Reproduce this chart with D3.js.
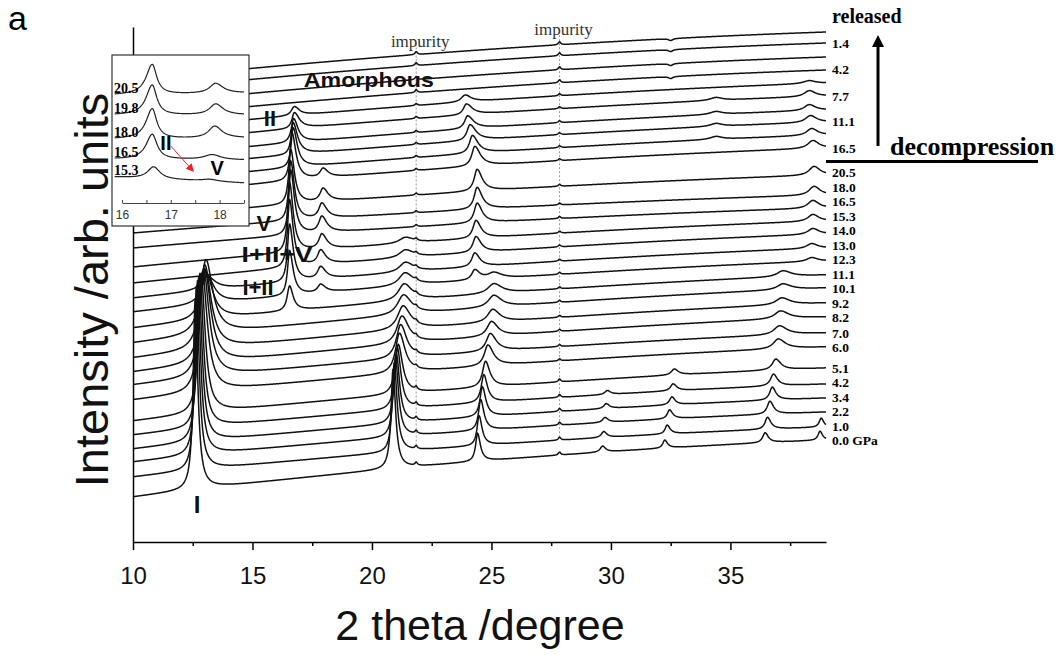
<!DOCTYPE html>
<html>
<head>
<meta charset="utf-8">
<script src="https://cdn.jsdelivr.net/npm/d3@7/dist/d3.min.js"></script>
<style>
body { margin: 0; background: #fff; }
svg text { font-family: "Liberation Sans", Arial, sans-serif; }
svg text.serif { font-family: "Liberation Serif", "Times New Roman", serif; font-weight: bold; }
svg text.plainserif { font-family: "Liberation Serif", "Times New Roman", serif; }
</style>
</head>
<body>
<div id="chart"></div>
<script>
// pressures, bottom curve first (compression, then decompression)
var compLabels = ["0.0 GPa", "1.0", "2.2", "3.4", "4.2", "5.1", "6.0", "7.0", "8.2", "9.2",
                  "10.1", "11.1", "12.3", "13.0", "14.0", "15.3", "16.5", "18.0", "20.5"];
var decompLabels = ["16.5", "", "11.1", "", "7.7", "", "4.2", "", "1.4", "released"];

// background level of each pattern at 10 deg and at 39 deg (arb. units, stacked)
var baseStart = [45, 65, 80, 93, 107, 121, 142, 157, 170, 184, 199, 214, 230, 244, 259, 275, 294, 309, 324,
                 346, 359, 372, 384, 398, 411, 424, 437, 451, 462];
var baseEnd = [102, 115, 130, 144, 158, 174, 195, 209, 225, 239, 254, 267, 281, 294, 308, 321, 334, 347, 367,
               394, 407, 420, 432, 446, 459, 472, 485, 499, 510];
var bgCurve = 0.5; // backgrounds bow upward in the middle

// peaks of each pattern: [2theta, height, left half width, right half width]
var peaks = [
  [[12.6, 190, .1, .13], [20.88, 100, .1, .13], [24.42, 28, .1, .14], [29.65, 6, .12, .15], [32.25, 8, .1, .14], [36.45, 10, .12, .16], [38.75, 9, .1, .12]],
  [[12.65, 185, .1, .14], [20.93, 90, .1, .14], [24.48, 30, .1, .15], [29.7, 6, .12, .15], [32.35, 9, .1, .15], [36.55, 12, .12, .17], [38.8, 9, .1, .12]],
  [[12.7, 175, .11, .15], [20.98, 80, .11, .15], [24.55, 31, .11, .16], [29.75, 5, .12, .16], [32.45, 9, .11, .16], [36.65, 13, .13, .18]],
  [[12.75, 165, .12, .16], [21.02, 70, .12, .16], [24.62, 30, .12, .17], [29.8, 5, .12, .16], [32.55, 8, .12, .16], [36.75, 13, .13, .18]],
  [[12.8, 155, .12, .17], [21.06, 62, .13, .18], [24.68, 28, .13, .18], [29.85, 4, .13, .16], [32.6, 7, .13, .18], [36.8, 12, .15, .2]],
  [[12.85, 140, .14, .2], [21.1, 50, .15, .22], [24.75, 26, .15, .22], [32.65, 6, .15, .2], [36.9, 11, .18, .25]],
  [[12.9, 120, .18, .25], [21.15, 40, .2, .28], [24.85, 21, .18, .28], [37.0, 10, .25, .35]],
  [[12.95, 108, .2, .28], [21.2, 34, .22, .3], [24.95, 18, .2, .3], [37.05, 9, .28, .38]],
  [[13.0, 95, .22, .3], [21.25, 28, .25, .35], [25.0, 15, .22, .32], [37.1, 8, .3, .4]],
  [[13.0, 85, .24, .32], [21.3, 24, .28, .38], [25.05, 13, .25, .35], [37.15, 7, .3, .4]],
  [[13.05, 75, .26, .34], [21.32, 20, .3, .4], [25.1, 12, .28, .38], [37.2, 6, .3, .4]],
  [[13.05, 48, .26, .34], [16.55, 25, .12, .18], [21.35, 17, .3, .4], [25.1, 10, .3, .4], [37.2, 6, .3, .4]],
  [[13.1, 28, .28, .36], [16.55, 45, .1, .18], [17.85, 8, .15, .25], [21.38, 13, .3, .4], [24.3, 10, .15, .25], [25.1, 6, .3, .4], [38.4, 4, .25, .3]],
  [[13.1, 14, .3, .4], [16.55, 58, .1, .18], [17.85, 12, .15, .25], [21.4, 10, .3, .4], [24.3, 14, .15, .25], [38.4, 5, .25, .3]],
  [[16.55, 68, .1, .18], [17.85, 14, .15, .25], [21.4, 8, .3, .4], [24.35, 16, .15, .25], [38.45, 6, .25, .3]],
  [[16.55, 70, .1, .18], [17.9, 15, .15, .25], [21.4, 6, .3, .4], [24.35, 18, .15, .25], [38.45, 7, .25, .3]],
  [[16.6, 65, .1, .18], [17.9, 16, .15, .25], [24.4, 20, .15, .25], [38.45, 8, .25, .3]],
  [[16.6, 60, .1, .18], [17.9, 15, .15, .25], [24.4, 22, .15, .25], [38.5, 9, .25, .3]],
  [[16.6, 55, .1, .18], [17.95, 13, .15, .25], [24.4, 22, .15, .25], [38.5, 9, .25, .3]],
  [[16.65, 48, .1, .2], [17.95, 9, .15, .25], [24.3, 20, .15, .28], [38.45, 8, .25, .3]],
  [[16.7, 40, .1, .2], [24.2, 18, .15, .28], [34.4, 3, .3, .3], [38.4, 7, .25, .3]],
  [[16.7, 32, .1, .22], [24.1, 16, .15, .3], [34.4, 3, .3, .3], [38.35, 7, .25, .3]],
  [[16.72, 24, .12, .22], [24.0, 13, .15, .3], [34.4, 3, .3, .3], [38.3, 6, .25, .3]],
  [[16.75, 16, .12, .25], [23.95, 11, .15, .3], [34.4, 3, .3, .3], [38.3, 6, .25, .3]],
  [[16.75, 9, .15, .25], [23.9, 7, .2, .3], [38.3, 3, .3, .3]],
  [[32.5, -2, .1, .1]],
  [[32.5, -2, .1, .1]],
  [[32.5, -2, .1, .1]],
  [[32.5, -2, .1, .1]]
];

// impurity lines and the size of their small peaks in each pattern
var impurityTheta = [21.85, 27.85];
var impurityHeight = [3, 3, 3, 3, 3, 3, 2, 2, 2, 2, 2, 2, 2, 2, 2, 2, 2, 2, 2, 2, 2, 2, 2, 2, 2, 3, 3, 3, 3];

// inset: 16-18.5 deg zoom of the highest pressures
var insetLabels = ["20.5", "19.8", "18.0", "16.5", "15.3"];
var insetStart = [108, 88, 64, 44, 26];
var insetEnd = [110, 88, 65, 43, 20];
var insetPeaks = [
  [[16.62, 30, .15, .11], [17.92, 10, .15, .18]],
  [[16.62, 30, .15, .11], [17.92, 11, .15, .18]],
  [[16.62, 30, .15, .11], [17.9, 12, .15, .18]],
  [[16.62, 25, .15, .12], [17.85, 5, .2, .2]],
  [[16.65, 12, .15, .15], [17.8, 2, .2, .2]]
];

var svgWidth = 1062;
var svgHeight = 655;

var svg = d3.select("#chart")
    .append("svg")
    .attr("width", svgWidth)
    .attr("height", svgHeight);

var defs = svg.append("defs");
defs.append("marker")
    .attr("id", "head")
    .attr("viewBox", "0 0 10 10")
    .attr("refX", 5).attr("refY", 5)
    .attr("markerWidth", 4).attr("markerHeight", 5)
    .attr("orient", "auto")
    .append("path").attr("d", "M0,0 L10,5 L0,10 z").attr("fill", "#000");
defs.append("marker")
    .attr("id", "redhead")
    .attr("viewBox", "0 0 10 10")
    .attr("refX", 5).attr("refY", 5)
    .attr("markerWidth", 8).attr("markerHeight", 8)
    .attr("markerUnits", "userSpaceOnUse")
    .attr("orient", "auto")
    .append("path").attr("d", "M0,0 L10,5 L0,10 z").attr("fill", "#e8262a");

var x = d3.scaleLinear().domain([10, 39]).range([133, 826]);
var y = d3.scaleLinear().domain([0, 515]).range([542, 27]);

function lor(t, p) {
    var w = t < p[0] ? p[2] : p[3];
    var d = (t - p[0]) / w;
    return p[1] / (1 + d * d);
}

function pattern(grid, lo, hi, start, end, pk, bow) {
    return grid.map(function(t) {
        var u = (t - lo) / (hi - lo);
        var v = start + (u + bow * u * (1 - u)) * (end - start);
        pk.forEach(function(p) { v += lor(t, p); });
        return [t, v];
    });
}

var grid = d3.range(10, 39.0001, 0.02);
var line = d3.line().x(d => x(d[0])).y(d => y(d[1]));

var curves = peaks.map(function(pk, i) {
    var all = pk.concat(impurityTheta.map(t => [t, impurityHeight[i], .06, .06]));
    return pattern(grid, 10, 39, baseStart[i], baseEnd[i], all, bgCurve);
});

// impurity dashed markers, from the 1.0 GPa pattern up to the top pattern
var topIdx = curves.length - 1;
impurityTheta.forEach(function(t) {
    var k = Math.round((t - 10) / 0.02);
    svg.append("line")
        .attr("x1", x(t)).attr("x2", x(t))
        .attr("y1", y(curves[1][k][1])).attr("y2", y(curves[topIdx][k][1] + 10))
        .attr("stroke", "#999")
        .attr("stroke-width", 1)
        .attr("stroke-dasharray", "2,2");
});

svg.append("g").selectAll("path")
    .data(curves)
    .enter()
    .append("path")
    .attr("d", line)
    .attr("fill", "none")
    .attr("stroke", "#111")
    .attr("stroke-width", 1.5);

// axes
var xAxis = svg.append("g")
    .attr("transform", "translate(0,542)")
    .call(d3.axisBottom(x).tickValues([10, 15, 20, 25, 30, 35]).tickSize(8).tickSizeOuter(0).tickFormat(d3.format("d")));
xAxis.select(".domain").attr("stroke-width", 1.5);
xAxis.selectAll(".tick line").attr("stroke-width", 1.5);
xAxis.selectAll("text").attr("font-size", 24).attr("dy", "1.3em").attr("fill", "#111");

svg.append("g")
    .attr("transform", "translate(0,542)")
    .call(d3.axisBottom(x).tickValues([12.5, 17.5, 22.5, 27.5, 32.5, 37.5]).tickSize(4).tickFormat(""))
    .call(g => g.select(".domain").remove())
    .selectAll(".tick line").attr("stroke-width", 1.5);

svg.append("g")
    .attr("transform", "translate(133,0)")
    .call(d3.axisLeft(y).tickValues([]).tickSizeOuter(0))
    .select(".domain").attr("stroke-width", 1.5);

svg.append("text")
    .attr("transform", "translate(108,290) rotate(-90)")
    .attr("text-anchor", "middle")
    .attr("font-size", 47)
    .attr("fill", "#111")
    .text("Intensity /arb. units");

svg.append("text")
    .attr("x", 480).attr("y", 640)
    .attr("text-anchor", "middle")
    .attr("font-size", 43)
    .attr("fill", "#111")
    .text("2 theta /degree");

svg.append("text")
    .attr("x", 8).attr("y", 30)
    .attr("font-size", 34)
    .text("a");

// pressure labels at the right end of each pattern, nudged apart where crowded
var rightLabels = compLabels.concat(decompLabels);
var labelY = baseEnd.map(v => y(v) + 5);
for (var i = 1; i < labelY.length; i++) {
    if (rightLabels[i] !== "" && labelY[i] > labelY[i - 1] - 14.5) labelY[i] = labelY[i - 1] - 14.5;
}
svg.append("g").selectAll("text")
    .data(rightLabels)
    .enter()
    .append("text")
    .attr("class", "serif")
    .attr("x", x(39) + 6)
    .attr("y", (d, i) => d === "released" ? y(baseEnd[i]) - 9 : labelY[i])
    .attr("font-size", d => d === "released" ? 20 : 13.5)
    .text(d => d);

var nComp = compLabels.length;
var sepY = y((baseEnd[nComp - 1] + baseEnd[nComp]) / 2);
svg.append("line")
    .attr("x1", x(39)).attr("x2", 1038)
    .attr("y1", sepY).attr("y2", sepY)
    .attr("stroke", "#000").attr("stroke-width", 3);
svg.append("text")
    .attr("class", "serif")
    .attr("x", 890).attr("y", sepY - 7)
    .attr("font-size", 26)
    .text("decompression");
svg.append("line")
    .attr("x1", 878).attr("x2", 878)
    .attr("y1", y(baseEnd[nComp]) - 2).attr("y2", y(baseEnd[topIdx - 1]) - 2)
    .attr("stroke", "#000").attr("stroke-width", 3)
    .attr("marker-end", "url(#head)");

// phase annotations
function note(txt, t, v, size, len) {
    var el = svg.append("text")
        .attr("x", x(t)).attr("y", y(v))
        .attr("text-anchor", "middle")
        .attr("font-size", size)
        .attr("font-weight", "bold")
        .attr("fill", "#111")
        .text(txt);
    if (len) el.attr("textLength", len).attr("lengthAdjust", "spacingAndGlyphs");
    return el;
}
note("I", 12.68, 29, 24);
note("I+II", 15.23, 247, 22);
note("I+II+V", 16.03, 280, 22, 71);
note("V", 15.48, 311, 22);
note("II", 15.73, 416, 22);
note("Amorphous", 19.87, 455, 20, 130);

impurityTheta.forEach(function(t, i) {
    svg.append("text")
        .attr("class", "plainserif")
        .attr("x", x(t) + 4).attr("y", y(i === 0 ? 495 : 507))
        .attr("text-anchor", "middle")
        .attr("font-size", 17)
        .attr("fill", "#333")
        .text("impurity");
});

// inset
var inset = svg.append("g");
inset.append("rect")
    .attr("x", 112).attr("y", 55)
    .attr("width", 137).attr("height", 171)
    .attr("fill", "#fff")
    .attr("stroke", "#333")
    .attr("stroke-width", 1.2);

var ix = d3.scaleLinear().domain([16, 18.5]).range([122, 244]);
var iy = d3.scaleLinear().domain([0, 150]).range([203, 53]);
var igrid = d3.range(15.85, 18.5001, 0.01);
var iline = d3.line().x(d => ix(d[0])).y(d => iy(d[1]));

inset.selectAll("path.ins")
    .data(insetPeaks.map((pk, i) => pattern(igrid, 15.85, 18.5, insetStart[i], insetEnd[i], pk, 0)))
    .enter()
    .append("path")
    .attr("class", "ins")
    .attr("d", iline)
    .attr("fill", "none")
    .attr("stroke", "#222")
    .attr("stroke-width", 1.2);

inset.selectAll("text.il")
    .data(insetLabels)
    .enter()
    .append("text")
    .attr("class", "serif il")
    .attr("x", 114)
    .attr("y", (d, i) => iy(insetStart[i]) - 2)
    .attr("font-size", 14)
    .text(d => d);

var iAxis = inset.append("g")
    .attr("transform", "translate(0,203)")
    .call(d3.axisBottom(ix).tickValues([16, 16.5, 17, 17.5, 18, 18.5]).tickSize(-3).tickSizeOuter(0)
        .tickFormat(d => d % 1 === 0 ? d : ""));
iAxis.selectAll("text").attr("font-size", 12).attr("dy", "1.1em").attr("fill", "#333");
iAxis.selectAll("line, path").attr("stroke", "#444");

inset.append("text").attr("x", ix(16.9)).attr("y", iy(53))
    .attr("text-anchor", "middle").attr("font-size", 20).attr("font-weight", "bold").text("II");
inset.append("text").attr("x", ix(17.95)).attr("y", iy(28))
    .attr("text-anchor", "middle").attr("font-size", 20).attr("font-weight", "bold").text("V");
inset.append("line")
    .attr("x1", ix(17.0)).attr("y1", iy(57))
    .attr("x2", ix(17.42)).attr("y2", iy(34))
    .attr("stroke", "#e8262a").attr("stroke-width", 1)
    .attr("marker-end", "url(#redhead)");
</script>
</body>
</html>
